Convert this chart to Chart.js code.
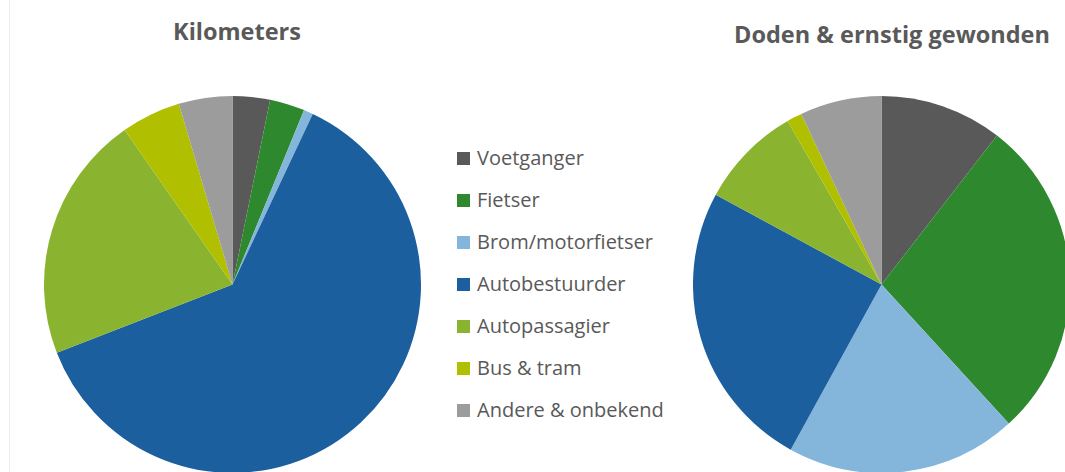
<!DOCTYPE html>
<html>
<head>
<meta charset="utf-8">
<script src="https://cdn.jsdelivr.net/npm/chart.js@4/dist/chart.umd.min.js"></script>
<style>
    html, body { margin: 0; padding: 0; background: #fff; }
    body { width: 1065px; height: 472px; overflow: hidden; position: relative; font-family: "Open Sans", sans-serif; }
    .rand { position: absolute; left: 9px; top: 0; width: 1px; height: 472px; background: #ececec; }
    .titel { position: absolute; font-weight: bold; color: #595959; font-size: 23.5px; white-space: nowrap; transform: translateX(-50%); }
    canvas { position: absolute; }
    #legenda { position: absolute; left: 457px; top: 144px; color: #595959; font-size: 20px; }
    .item { height: 42px; display: flex; align-items: flex-start; white-space: nowrap; line-height: 27px; }
    .blok { width: 13px; height: 13px; margin-right: 7px; margin-top: 8px; }
</style>
</head>
<body>
<div class="rand"></div>
<div class="titel" id="titel1" style="left:237px; top:15px;"></div>
<div class="titel" id="titel2" style="left:892px; top:18px;"></div>
<canvas id="kilometers" width="377" height="377" style="left:44px; top:96px;"></canvas>
<canvas id="slachtoffers" width="377" height="377" style="left:693px; top:96px;"></canvas>
<div id="legenda"></div>
<script>
const categorieen = ['Voetganger', 'Fietser', 'Brom/motorfietser', 'Autobestuurder', 'Autopassagier', 'Bus & tram', 'Andere & onbekend'];
const kleuren = ['#595959', '#2E882E', '#84B5DA', '#1C5F9F', '#8AB42F', '#B0C000', '#9C9C9C'];
const titels = ['Kilometers', 'Doden & ernstig gewonden'];

// aandelen in procent
const kilometers = [3.2, 3.0, 0.8, 62.1, 21.2, 5.1, 4.6];
const dodenGewonden = [10.5, 27.7, 19.8, 24.9, 8.8, 1.3, 7.0];

document.getElementById('titel1').innerText = titels[0];
document.getElementById('titel2').innerText = titels[1];

function maakPie(id, waarden) {
    const ctx = document.getElementById(id).getContext('2d');
    return new Chart(ctx, {
        type: 'pie',
        data: {
            labels: categorieen,
            datasets: [{
                data: waarden,
                backgroundColor: kleuren,
                borderWidth: 0
            }]
        },
        options: {
            responsive: false,
            animation: false,
            events: [],
            layout: { padding: 0 },
            plugins: {
                legend: { display: false },
                tooltip: { enabled: false },
                title: { display: false }
            }
        }
    });
}

maakPie('kilometers', kilometers);
maakPie('slachtoffers', dodenGewonden);

// legenda
const legenda = document.getElementById('legenda');
categorieen.forEach((naam, i) => {
    const rij = document.createElement('div');
    rij.className = 'item';
    const blok = document.createElement('div');
    blok.className = 'blok';
    blok.style.background = kleuren[i];
    const tekst = document.createElement('span');
    tekst.innerText = naam;
    rij.appendChild(blok);
    rij.appendChild(tekst);
    legenda.appendChild(rij);
});
</script>
</body>
</html>
